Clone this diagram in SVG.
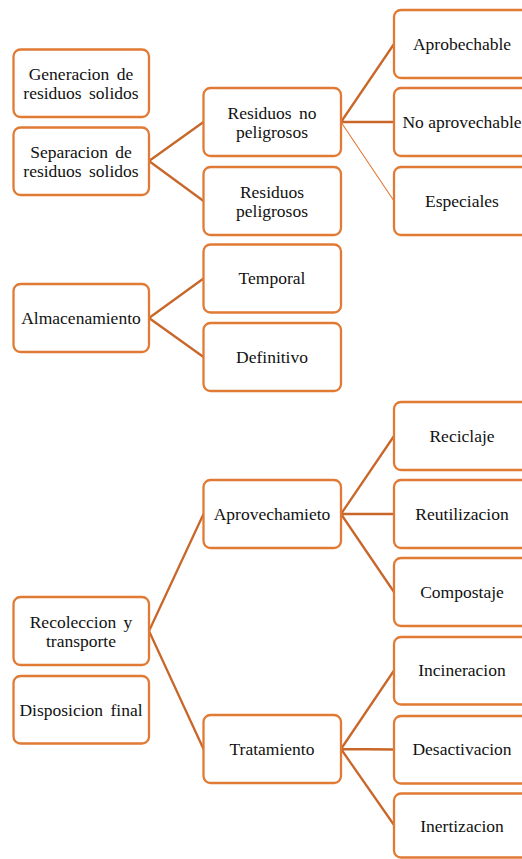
<svg xmlns="http://www.w3.org/2000/svg" width="522" height="859" viewBox="0 0 522 859">
  <style>
    .box { fill: #ffffff; stroke: #E07A34; stroke-width: 2.3; }
    .lbl { font-family: "Liberation Serif", "DejaVu Serif", "Times New Roman", serif; font-size: 17.5px; fill: #111111; text-anchor: middle; }
    .wide { word-spacing: 3px; }
    .link { stroke: #C9672B; stroke-width: 2.3; fill: none; stroke-linecap: round; }
    .thin { stroke-width: 1.1; stroke: #E07A34; }
  </style>
  <rect width="522" height="859" fill="#ffffff"/>

  <!-- connectors -->
  <g id="connectors">
    <path class="link" d="M149,161 L203.5,122 M149,161 L203.5,201"/>
    <path class="link" d="M341,122 L394,44 M341,122 L394,122"/>
    <path class="link thin" d="M341,122 L394,201"/>
    <path class="link" d="M149,318 L203.5,278.5 M149,318 L203.5,357"/>
    <path class="link" d="M149,631 L203.5,514 M149,631 L203.5,749"/>
    <path class="link" d="M341,514 L394,436 M341,514 L394,514 M341,514 L394,592"/>
    <path class="link" d="M341,749 L394,670.5 M341,749 L394,749.5 M341,749 L394,825"/>
  </g>

  <!-- left column -->
  <g id="generacion">
    <rect class="box" x="13.5" y="49.5" width="135.5" height="67.5" rx="7"/>
    <text class="lbl wide" x="81" y="79.5">Generacion de</text>
    <text class="lbl wide" x="81" y="98.5">residuos solidos</text>
  </g>
  <g id="separacion">
    <rect class="box" x="13.5" y="127.5" width="135.5" height="67.5" rx="7"/>
    <text class="lbl wide" x="81" y="157.5">Separacion de</text>
    <text class="lbl wide" x="81" y="176.5">residuos solidos</text>
  </g>
  <g id="almacenamiento">
    <rect class="box" x="13.5" y="284" width="135.5" height="68" rx="7"/>
    <text class="lbl" x="81" y="324">Almacenamiento</text>
  </g>
  <g id="recoleccion">
    <rect class="box" x="13.5" y="597" width="135.5" height="68" rx="7"/>
    <text class="lbl wide" x="81" y="627.5">Recoleccion y</text>
    <text class="lbl" x="81" y="646.5">transporte</text>
  </g>
  <g id="disposicion">
    <rect class="box" x="13.5" y="676" width="135.5" height="67.5" rx="7"/>
    <text class="lbl wide" x="81" y="716">Disposicion final</text>
  </g>

  <!-- middle column -->
  <g id="no-peligrosos">
    <rect class="box" x="203.5" y="88" width="137.5" height="68" rx="7"/>
    <text class="lbl wide" x="272" y="118.5">Residuos no</text>
    <text class="lbl" x="272" y="137.5">peligrosos</text>
  </g>
  <g id="peligrosos">
    <rect class="box" x="203.5" y="167" width="137.5" height="68" rx="7"/>
    <text class="lbl" x="272" y="197.5">Residuos</text>
    <text class="lbl" x="272" y="216.5">peligrosos</text>
  </g>
  <g id="temporal">
    <rect class="box" x="203.5" y="244.5" width="137.5" height="68" rx="7"/>
    <text class="lbl" x="272" y="284">Temporal</text>
  </g>
  <g id="definitivo">
    <rect class="box" x="203.5" y="323" width="137.5" height="68" rx="7"/>
    <text class="lbl" x="272" y="363">Definitivo</text>
  </g>
  <g id="aprovechamieto">
    <rect class="box" x="203.5" y="480" width="137.5" height="68" rx="7"/>
    <text class="lbl" x="272" y="520">Aprovechamieto</text>
  </g>
  <g id="tratamiento">
    <rect class="box" x="203.5" y="715" width="137.5" height="68" rx="7"/>
    <text class="lbl" x="272" y="755">Tratamiento</text>
  </g>

  <!-- right column -->
  <g id="aprobechable">
    <rect class="box" x="394" y="10" width="140" height="68" rx="7"/>
    <text class="lbl" x="462" y="50">Aprobechable</text>
  </g>
  <g id="no-aprovechable">
    <rect class="box" x="394" y="88" width="140" height="68" rx="7"/>
    <text class="lbl" x="462" y="128">No aprovechable</text>
  </g>
  <g id="especiales">
    <rect class="box" x="394" y="167" width="140" height="68" rx="7"/>
    <text class="lbl" x="462" y="207">Especiales</text>
  </g>
  <g id="reciclaje">
    <rect class="box" x="394" y="402" width="140" height="68" rx="7"/>
    <text class="lbl" x="462" y="442">Reciclaje</text>
  </g>
  <g id="reutilizacion">
    <rect class="box" x="394" y="480" width="140" height="68" rx="7"/>
    <text class="lbl" x="462" y="520">Reutilizacion</text>
  </g>
  <g id="compostaje">
    <rect class="box" x="394" y="558" width="140" height="68" rx="7"/>
    <text class="lbl" x="462" y="598">Compostaje</text>
  </g>
  <g id="incineracion">
    <rect class="box" x="394" y="637" width="140" height="67.5" rx="7"/>
    <text class="lbl" x="462" y="676">Incineracion</text>
  </g>
  <g id="desactivacion">
    <rect class="box" x="394" y="716" width="140" height="67.5" rx="7"/>
    <text class="lbl" x="462" y="755">Desactivacion</text>
  </g>
  <g id="inertizacion">
    <rect class="box" x="394" y="793.5" width="140" height="64" rx="7"/>
    <text class="lbl" x="462" y="832">Inertizacion</text>
  </g>
</svg>
